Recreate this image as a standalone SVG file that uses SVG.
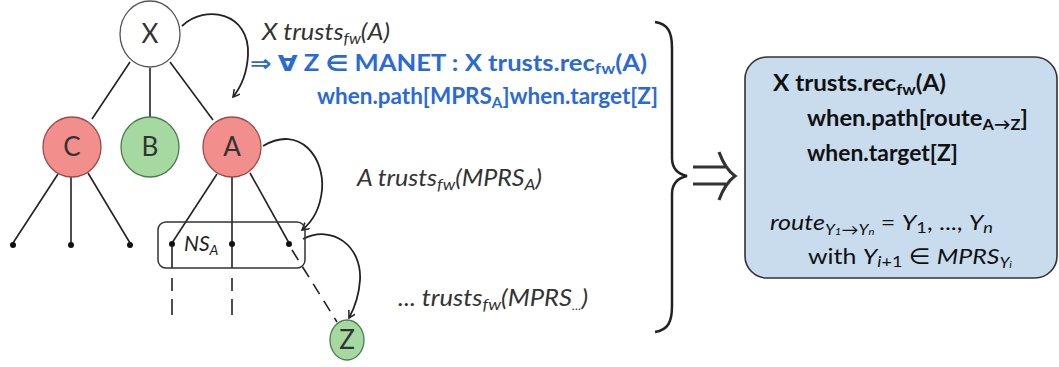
<svg xmlns="http://www.w3.org/2000/svg" width="1059" height="367" viewBox="0 0 1059 367">
<style>
.edge{stroke:#222;stroke-width:1.6;fill:none}
.dash{stroke:#222;stroke-width:1.6;fill:none}
.curve{stroke:#222;stroke-width:1.8;fill:none;marker-end:url(#tip)}
.lbl{font-family:Lato,"Open Sans","DejaVu Sans",sans-serif;font-size:26px;fill:#333;text-anchor:middle}
.red{fill:#f28e8c;stroke:#9c4b4b;stroke-width:1.3}
.green{fill:#a6d9a2;stroke:#4c7c4c;stroke-width:1.3}
.gray{font-family:Lato,"Open Sans","DejaVu Sans",sans-serif;font-style:italic;font-size:23px;fill:#333}
.blue{font-family:Lato,"Open Sans","DejaVu Sans",sans-serif;font-weight:bold;font-size:22px;fill:#2a6ad8}
.box{font-family:Lato,"Open Sans","DejaVu Sans",sans-serif;font-weight:bold;font-size:23px;fill:#111}
.boxi{font-family:Lato,"Open Sans","DejaVu Sans",sans-serif;font-size:22px;fill:#111}
.dot{fill:#111}
</style>
<defs>
<marker id="tip" markerWidth="10" markerHeight="10" refX="7" refY="4" orient="auto" markerUnits="userSpaceOnUse">
<path d="M0,0 L7,4 L0,8" fill="none" stroke="#222" stroke-width="1.5"/>
</marker>
</defs>
<rect width="1059" height="367" fill="#fff"/>

<g id="connectors">
<line class="edge" x1="130" y1="62" x2="92" y2="119"/>
<line class="edge" x1="150" y1="68" x2="150" y2="117"/>
<line class="edge" x1="170" y1="62" x2="213" y2="120"/>
<line class="edge" x1="58" y1="174" x2="13" y2="243"/>
<line class="edge" x1="71" y1="177" x2="71" y2="243"/>
<line class="edge" x1="88" y1="173" x2="130" y2="243"/>
<line class="edge" x1="217" y1="174" x2="172" y2="243"/>
<line class="edge" x1="232" y1="177" x2="232" y2="243"/>
<line class="edge" x1="250" y1="173" x2="289" y2="243"/>
<line class="dash" x1="172" y1="247" x2="172" y2="317" stroke-dasharray="21 10 13 8 16"/>
<line class="dash" x1="232" y1="247" x2="232" y2="317" stroke-dasharray="21 10 13 8 16"/>
<line class="dash" x1="292" y1="250" x2="337" y2="322" stroke-dasharray="12 8"/>
<path class="curve" d="M182,26 C205,4 250,12 248,55 C247,74 241,87 233,97"/>
<path class="curve" d="M263,146 C300,124 325,158 322,190 C320,210 312,222 302,230"/>
<path class="curve" d="M303,239 C332,224 362,246 360,280 C359,296 355,307 349,318"/>
</g>

<g id="nsA">
<rect x="158" y="222" width="147" height="46" rx="8" fill="none" stroke="#333" stroke-width="1.5"/>
<text x="184" y="251" font-family="Lato, Open Sans, DejaVu Sans, sans-serif" font-style="italic" font-size="21" fill="#222">NS<tspan font-size="14" baseline-shift="-4">A</tspan></text>
</g>

<g id="leaves">
<circle class="dot" cx="13" cy="245" r="3"/>
<circle class="dot" cx="71" cy="245" r="3"/>
<circle class="dot" cx="130" cy="245" r="3"/>
<circle class="dot" cx="172" cy="244" r="3"/>
<circle class="dot" cx="232" cy="244" r="3"/>
<circle class="dot" cx="289" cy="244" r="3"/>
</g>

<g id="node-X"><ellipse cx="150" cy="34" rx="30" ry="33" fill="#fff" stroke="#555" stroke-width="1.3"/><text class="lbl" x="150" y="43">X</text></g>
<g id="node-C"><ellipse class="red" cx="72" cy="147" rx="29" ry="30"/><text class="lbl" x="72" y="156">C</text></g>
<g id="node-B"><ellipse class="green" cx="150" cy="147" rx="29" ry="30"/><text class="lbl" x="150" y="156">B</text></g>
<g id="node-A"><ellipse class="red" cx="232" cy="147" rx="29" ry="30"/><text class="lbl" x="232" y="156">A</text></g>
<g id="node-Z"><ellipse class="green" cx="347" cy="340" rx="17" ry="20"/><text class="lbl" x="347" y="349" font-size="23">Z</text></g>

<g id="labels">
<text class="gray" x="262" y="40" textLength="128" lengthAdjust="spacingAndGlyphs">X  trusts<tspan font-size="15" baseline-shift="-4">fw</tspan>(A)</text>
<text class="blue" x="250" y="71" textLength="397" lengthAdjust="spacingAndGlyphs">⇒ ∀ Z ∈ MANET :  X trusts.rec<tspan font-size="15" baseline-shift="-3">fw</tspan>(A)</text>
<text class="blue" x="317" y="104" textLength="341" lengthAdjust="spacingAndGlyphs">when.path[MPRS<tspan font-size="15" baseline-shift="-4">A</tspan>]when.target[Z]</text>
<text class="gray" x="357" y="186" textLength="185" lengthAdjust="spacingAndGlyphs">A trusts<tspan font-size="16" baseline-shift="-4">fw</tspan>(MPRS<tspan font-size="16" baseline-shift="-4">A</tspan>)</text>
<text class="gray" x="398" y="306" textLength="190" lengthAdjust="spacingAndGlyphs">... trusts<tspan font-size="16" baseline-shift="-4">fw</tspan>(MPRS<tspan font-size="12" baseline-shift="-4">...</tspan>)</text>
</g>

<g id="brace">
<path d="M655,22 C668,24 672,32 672,48 L672,158 C672,168 678,174 687,176 C678,178 672,184 672,194 L672,306 C672,322 668,330 655,332" fill="none" stroke="#222" stroke-width="2.5"/>
</g>
<g id="implies">
<path d="M693,167 L726,167 M693,184 L726,184 M719,152 C723,163 728,171 735,176 C728,181 723,189 719,200" fill="none" stroke="#333" stroke-width="3.2"/>
</g>

<g id="result">
<rect x="745" y="57" width="312" height="221" rx="22" fill="#c8dcee" stroke="#333" stroke-width="1.6"/>
<text class="box" x="773" y="91" textLength="173" lengthAdjust="spacingAndGlyphs">X trusts.rec<tspan font-size="16" baseline-shift="-4">fw</tspan>(A)</text>
<text class="box" x="807" y="126" textLength="221" lengthAdjust="spacingAndGlyphs">when.path[route<tspan font-size="16" baseline-shift="-4">A→Z</tspan>]</text>
<text class="box" x="807" y="161" textLength="151" lengthAdjust="spacingAndGlyphs">when.target[Z]</text>
<text class="boxi" x="770" y="230" textLength="223" lengthAdjust="spacingAndGlyphs"><tspan font-style="italic">route</tspan><tspan font-size="15" font-style="italic" baseline-shift="-5">Y<tspan font-size="10">1</tspan>→Y<tspan font-size="10" font-style="italic">n</tspan></tspan> = <tspan font-style="italic">Y</tspan><tspan font-size="16" baseline-shift="-3">1</tspan>, ..., <tspan font-style="italic">Y</tspan><tspan font-size="16" font-style="italic" baseline-shift="-3">n</tspan></text>
<text class="boxi" x="808" y="264" textLength="204" lengthAdjust="spacingAndGlyphs">with  <tspan font-style="italic">Y</tspan><tspan font-size="16" baseline-shift="-3"><tspan font-style="italic">i</tspan>+1</tspan> ∈ <tspan font-style="italic">MPRS</tspan><tspan font-size="15" font-style="italic" baseline-shift="-4">Y<tspan font-size="10">i</tspan></tspan></text>
</g>
</svg>
